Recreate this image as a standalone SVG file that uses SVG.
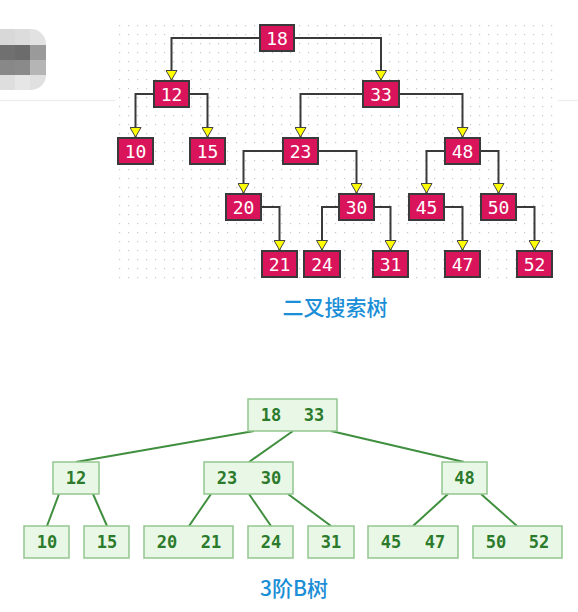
<svg xmlns="http://www.w3.org/2000/svg" width="578" height="612" viewBox="0 0 578 612">
<defs>
<pattern id="dots" x="119" y="25" width="9" height="9" patternUnits="userSpaceOnUse">
<rect x="0" y="0" width="1.2" height="1.2" fill="#c8c8c8"/>
</pattern>
<marker id="arr" markerUnits="userSpaceOnUse" markerWidth="12" markerHeight="12" viewBox="0 0 12 12" refX="10.5" refY="6" orient="auto">
<path d="M1,0.5 L10.5,6 L1,11.5 Z" fill="#ffff00" stroke="#444" stroke-width="1"/>
</marker>
<clipPath id="blobclip"><rect x="-14" y="29" width="60" height="61" rx="15"/></clipPath>
<style>
.bst rect{fill:#d9145b;stroke:#3a3a3a;stroke-width:2}
.bst text{fill:#fff;font-family:"DejaVu Sans Mono",monospace;font-size:18px;text-anchor:middle;dominant-baseline:central}
.bt rect{fill:#e9f8e6;stroke:#93c68e;stroke-width:1.5}
.bt text{fill:#2c7a2c;font-family:"DejaVu Sans Mono",monospace;font-size:17px;font-weight:bold;text-anchor:middle;dominant-baseline:central}
.con path{fill:none;stroke:#3a3a3a;stroke-width:2}
.bcon line{stroke:#3f8f3f;stroke-width:2}
.title{fill:#1a8ed6;font-family:"Noto Sans CJK SC","Noto Sans",sans-serif;font-size:21px;font-weight:500;text-anchor:middle}
</style>
</defs>
<rect width="578" height="612" fill="#fff"/>
<g clip-path="url(#blobclip)">
<rect x="0" y="29" width="15" height="16" fill="#d8d8d8"/>
<rect x="15" y="29" width="15" height="16" fill="#dcdcdc"/>
<rect x="30" y="29" width="16" height="16" fill="#e2e2e2"/>
<rect x="0" y="45" width="15" height="15" fill="#707070"/>
<rect x="15" y="45" width="15" height="15" fill="#6c6c6c"/>
<rect x="30" y="45" width="16" height="15" fill="#9a9a9a"/>
<rect x="0" y="60" width="15" height="15" fill="#888"/>
<rect x="15" y="60" width="15" height="15" fill="#8a8a8a"/>
<rect x="30" y="60" width="16" height="15" fill="#b5b5b5"/>
<rect x="0" y="75" width="15" height="15" fill="#dedede"/>
<rect x="15" y="75" width="15" height="15" fill="#e6e6e6"/>
<rect x="30" y="75" width="16" height="15" fill="#e0e0e0"/>
</g>
<line x1="0" y1="100.5" x2="115" y2="100.5" stroke="#eeeeee" stroke-width="1.5"/>
<line x1="558" y1="100.5" x2="578" y2="100.5" stroke="#eeeeee" stroke-width="1.5"/>
<rect x="118" y="24" width="436" height="260" fill="url(#dots)"/>
<g class="con" id="bst-connectors">
<path d="M260,38 H171.5 V80" marker-end="url(#arr)"/>
<path d="M294,38 H381 V80" marker-end="url(#arr)"/>
<path d="M154,94 H135.5 V137" marker-end="url(#arr)"/>
<path d="M189,94 H207.5 V137" marker-end="url(#arr)"/>
<path d="M363,94 H300.5 V137" marker-end="url(#arr)"/>
<path d="M399,94 H462.5 V137" marker-end="url(#arr)"/>
<path d="M283,151 H243.5 V193" marker-end="url(#arr)"/>
<path d="M318,151 H356.5 V193" marker-end="url(#arr)"/>
<path d="M445,151 H426.5 V193" marker-end="url(#arr)"/>
<path d="M480,151 H498.5 V193" marker-end="url(#arr)"/>
<path d="M261,207 H279.5 V250" marker-end="url(#arr)"/>
<path d="M339,207 H322 V250" marker-end="url(#arr)"/>
<path d="M374,207 H390.5 V250" marker-end="url(#arr)"/>
<path d="M444,207 H462.5 V250" marker-end="url(#arr)"/>
<path d="M516,207 H534.5 V250" marker-end="url(#arr)"/>
</g>
<g class="bst">
<g id="n18"><rect x="260" y="25" width="34" height="26"/><text x="277" y="38">18</text></g>
<g id="n12"><rect x="154" y="81" width="35" height="26"/><text x="171.5" y="94">12</text></g>
<g id="n33"><rect x="363" y="81" width="36" height="26"/><text x="381" y="94">33</text></g>
<g id="n10"><rect x="118" y="138" width="35" height="26"/><text x="135.5" y="151">10</text></g>
<g id="n15"><rect x="190" y="138" width="35" height="26"/><text x="207.5" y="151">15</text></g>
<g id="n23"><rect x="283" y="138" width="35" height="26"/><text x="300.5" y="151">23</text></g>
<g id="n48"><rect x="445" y="138" width="35" height="26"/><text x="462.5" y="151">48</text></g>
<g id="n20"><rect x="226" y="194" width="35" height="26"/><text x="243.5" y="207">20</text></g>
<g id="n30"><rect x="339" y="194" width="35" height="26"/><text x="356.5" y="207">30</text></g>
<g id="n45"><rect x="409" y="194" width="35" height="26"/><text x="426.5" y="207">45</text></g>
<g id="n50"><rect x="481" y="194" width="35" height="26"/><text x="498.5" y="207">50</text></g>
<g id="n21"><rect x="262" y="251" width="35" height="26"/><text x="279.5" y="264">21</text></g>
<g id="n24"><rect x="304" y="251" width="36" height="26"/><text x="322" y="264">24</text></g>
<g id="n31"><rect x="373" y="251" width="35" height="26"/><text x="390.5" y="264">31</text></g>
<g id="n47"><rect x="445" y="251" width="35" height="26"/><text x="462.5" y="264">47</text></g>
<g id="n52"><rect x="517" y="251" width="35" height="26"/><text x="534.5" y="264">52</text></g>
</g>
<text class="title" x="335" y="315">二叉搜索树</text>
<g class="bcon" id="btree-connectors">
<line x1="254" y1="431" x2="76" y2="462"/>
<line x1="293" y1="431" x2="249" y2="462"/>
<line x1="331" y1="431" x2="464" y2="462"/>
<line x1="59" y1="494" x2="47" y2="526"/>
<line x1="93" y1="494" x2="107" y2="526"/>
<line x1="211" y1="494" x2="189" y2="526"/>
<line x1="249" y1="494" x2="271" y2="526"/>
<line x1="288" y1="494" x2="331" y2="526"/>
<line x1="448" y1="494" x2="413" y2="526"/>
<line x1="481" y1="494" x2="517" y2="526"/>
</g>
<g class="bt">
<g id="b18-33"><rect x="248" y="399" width="89" height="32"/><text x="271" y="415">18</text><text x="314" y="415">33</text></g>
<g id="b12"><rect x="53" y="462" width="46" height="32"/><text x="76" y="478">12</text></g>
<g id="b23-30"><rect x="204" y="462" width="89" height="32"/><text x="227" y="478">23</text><text x="271" y="478">30</text></g>
<g id="b48"><rect x="442" y="462" width="45" height="32"/><text x="464.5" y="478">48</text></g>
<g id="b10"><rect x="24" y="526" width="45" height="32"/><text x="47" y="542">10</text></g>
<g id="b15"><rect x="84" y="526" width="45" height="32"/><text x="107" y="542">15</text></g>
<g id="b20-21"><rect x="144" y="526" width="89" height="32"/><text x="167" y="542">20</text><text x="211" y="542">21</text></g>
<g id="b24"><rect x="248" y="526" width="45" height="32"/><text x="271" y="542">24</text></g>
<g id="b31"><rect x="308" y="526" width="46" height="32"/><text x="331" y="542">31</text></g>
<g id="b45-47"><rect x="368" y="526" width="90" height="32"/><text x="391" y="542">45</text><text x="435" y="542">47</text></g>
<g id="b50-52"><rect x="473" y="526" width="89" height="32"/><text x="496" y="542">50</text><text x="539" y="542">52</text></g>
</g>
<text class="title" x="294" y="596">3阶B树</text>
</svg>
